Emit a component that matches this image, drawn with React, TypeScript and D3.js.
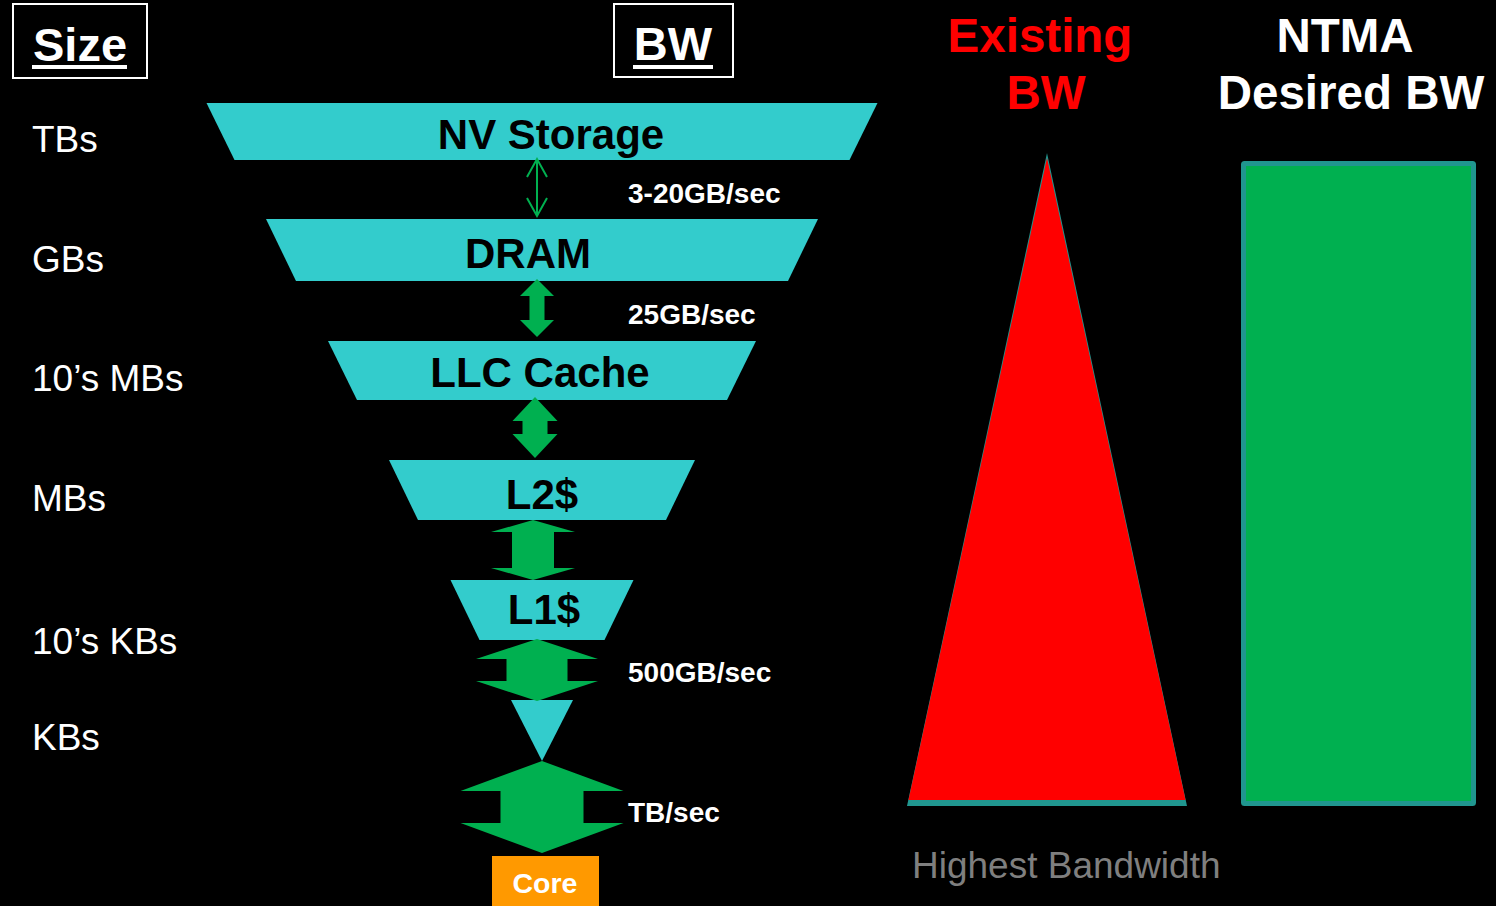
import React from "react";
import * as d3 from "d3";

// ---- Data ----
const sizeLabels = ["TBs", "GBs", "10’s MBs", "MBs", "10’s KBs", "KBs"];
const levelNames = ["NV Storage", "DRAM", "LLC Cache", "L2$", "L1$", ""];
const levelTopWidths = [671, 552, 428, 306, 183, 62];
const bandwidthLabels = ["3-20GB/sec", "25GB/sec", "", "", "500GB/sec", "TB/sec"];
const columnTitles = [["Existing", "BW"], ["NTMA", "Desired BW"]];
const footerLabel = "Highest Bandwidth";

// ---- Layout ----
const W = 1496, H = 906;
const FONT = "'Liberation Sans', Arial, sans-serif";
const CYAN = "#33CCCC";
const GREEN = "#00B050";
const TEAL = "#20968F";
const RED = "#FF0000";
const ORANGE = "#FF9900";

const pyramidCX = 542;
const levelY = d3.scaleOrdinal<number, number>().domain([0, 1, 2, 3, 4, 5]).range([103, 219, 341, 460, 580, 700]);
const levelH = [57, 62, 59, 60, 60, 61];
const slant = [28, 30, 29, 29, 29, 31];
const labelDX = [9, -14, -2, 0, 2, 0];
const labelBaseline = [149, 268, 387, 509, 624, 0];
const sizeY = [152, 272, 391, 511, 654, 750];
const bwY = [203, 324, 0, 0, 682, 822];

// arrows: [cx, top, bottom, headW, shaftW, headH]
const arrows: number[][] = [
  [537, 159, 216, 20, 2, 18],
  [537, 279, 337, 34, 15, 17],
  [535, 397, 458, 45, 25, 24],
  [533, 520, 580, 84, 42, 12],
  [537, 639, 701, 122, 61, 20],
  [542, 761, 853, 163, 83, 30],
];

const line = d3.line<[number, number]>();

function trapezoid(i: number): string {
  const top = levelY(i);
  const w = levelTopWidths[i];
  const bot = top + levelH[i];
  const bw = i === 5 ? 0 : w - 2 * slant[i];
  const pts: [number, number][] = [
    [pyramidCX - w / 2, top],
    [pyramidCX + w / 2, top],
    [pyramidCX + bw / 2, bot],
    [pyramidCX - bw / 2, bot],
  ];
  return line(pts) + "Z";
}

function blockArrow(a: number[]): string {
  const [cx, t, b, hw, sw, hh] = a;
  const pts: [number, number][] = [
    [cx, t],
    [cx + hw / 2, t + hh],
    [cx + sw / 2, t + hh],
    [cx + sw / 2, b - hh],
    [cx + hw / 2, b - hh],
    [cx, b],
    [cx - hw / 2, b - hh],
    [cx - sw / 2, b - hh],
    [cx - sw / 2, t + hh],
    [cx - hw / 2, t + hh],
  ];
  return line(pts) + "Z";
}

export default function App() {
  const thin = arrows[0];
  return (
    <svg width={W} height={H} style={{ position: "absolute", left: 0, top: 0, background: "#000" }} fontFamily={FONT}>
      <rect x={0} y={0} width={W} height={H} fill="#000" />

      {/* Header boxes */}
      <rect x={13} y={4} width={134} height={74} fill="none" stroke="#fff" strokeWidth={2} />
      <text x={80} y={61} fill="#fff" fontSize={47} fontWeight="bold" textAnchor="middle">Size</text>
      <rect x={32} y={65} width={95} height={4} fill="#fff" />
      <rect x={614} y={4} width={119} height={73} fill="none" stroke="#fff" strokeWidth={2} />
      <text x={673} y={60} fill="#fff" fontSize={47} fontWeight="bold" textAnchor="middle">BW</text>
      <rect x={633} y={65} width={80} height={4} fill="#fff" />

      {/* Size labels */}
      {sizeLabels.map((s, i) => (
        <text key={s} x={32} y={sizeY[i]} fill="#fff" fontSize={37}>{s}</text>
      ))}

      {/* Pyramid levels */}
      {levelNames.map((n, i) => (
        <g key={"lvl" + i}>
          <path d={trapezoid(i)} fill={CYAN} />
          {n && (
            <text x={pyramidCX + labelDX[i]} y={labelBaseline[i]} fill="#000" fontSize={42} fontWeight="bold" textAnchor="middle">{n}</text>
          )}
        </g>
      ))}

      {/* Thin arrow */}
      <g stroke={GREEN} strokeWidth={2} fill="none">
        <line x1={thin[0]} y1={thin[1]} x2={thin[0]} y2={thin[2]} />
        <path d={line([[thin[0] - thin[3] / 2, thin[1] + thin[5]], [thin[0], thin[1]], [thin[0] + thin[3] / 2, thin[1] + thin[5]]])!} />
        <path d={line([[thin[0] - thin[3] / 2, thin[2] - thin[5]], [thin[0], thin[2]], [thin[0] + thin[3] / 2, thin[2] - thin[5]]])!} />
      </g>
      {/* Block arrows */}
      {arrows.slice(1).map((a, i) => (
        <path key={"arr" + i} d={blockArrow(a)} fill={GREEN} />
      ))}

      {/* Bandwidth labels */}
      {bandwidthLabels.map((b, i) => b ? (
        <text key={"bw" + i} x={628} y={bwY[i]} fill="#fff" fontSize={28} fontWeight="bold">{b}</text>
      ) : null)}

      {/* Core */}
      <rect x={492} y={856} width={107} height={50} fill={ORANGE} />
      <text x={545} y={893} fill="#fff" fontSize={28.5} fontWeight="bold" textAnchor="middle">Core</text>

      {/* Column titles */}
      <text x={1040} y={52} fill={RED} fontSize={47.5} fontWeight="bold" textAnchor="middle">{columnTitles[0][0]}</text>
      <text x={1046} y={109} fill={RED} fontSize={47.5} fontWeight="bold" textAnchor="middle">{columnTitles[0][1]}</text>
      <text x={1345} y={52} fill="#fff" fontSize={47.5} fontWeight="bold" textAnchor="middle">{columnTitles[1][0]}</text>
      <text x={1351} y={109} fill="#fff" fontSize={47.5} fontWeight="bold" textAnchor="middle">{columnTitles[1][1]}</text>

      {/* Existing BW triangle */}
      <path d={line([[1047, 153], [1187, 806], [907, 806]])! + "Z"} fill={TEAL} />
      <path d={line([[1047, 158], [1185.5, 800], [908.5, 800]])! + "Z"} fill={RED} />

      {/* Desired BW rect */}
      <rect x={1243.5} y={163.5} width={230} height={640} fill={GREEN} stroke={TEAL} strokeWidth={5} rx={1} />

      <text x={912} y={878} fill="#7F7F7F" fontSize={37}>{footerLabel}</text>
    </svg>
  );
}
